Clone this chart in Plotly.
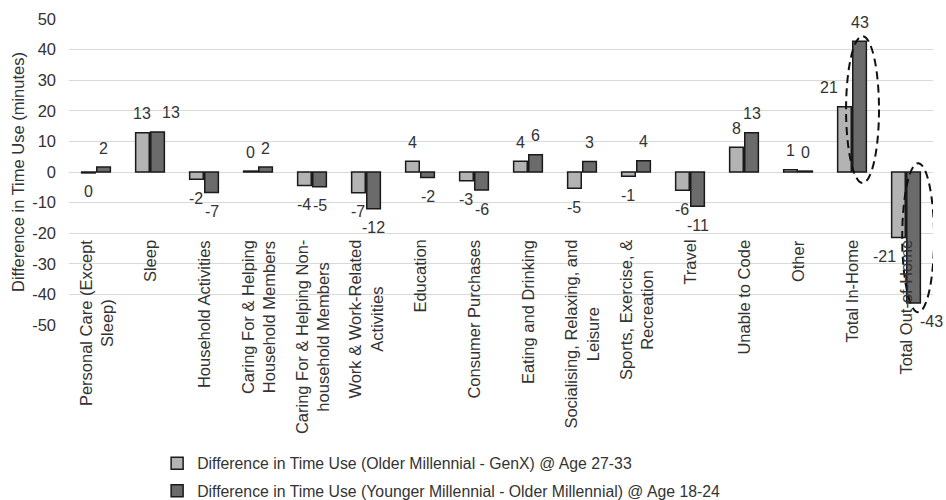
import plotly.graph_objects as go

# Activity categories (keys) and their wrapped display labels
categories = [
    "Personal Care (Except Sleep)", "Sleep", "Household Activities",
    "Caring For & Helping Household Members",
    "Caring For & Helping Non-household Members",
    "Work & Work-Related Activities", "Education", "Consumer Purchases",
    "Eating and Drinking", "Socialising, Relaxing, and Leisure",
    "Sports, Exercise, & Recreation", "Travel", "Unable to Code", "Other",
    "Total In-Home", "Total Out-of-Home",
]
category_labels = [
    "Personal Care (Except<br>Sleep)", "Sleep", "Household Activities",
    "Caring For & Helping<br>Household Members",
    "Caring For & Helping Non-<br>household Members",
    "Work & Work-Related<br>Activities", "Education", "Consumer Purchases",
    "Eating and Drinking", "Socialising, Relaxing, and<br>Leisure",
    "Sports, Exercise, &<br>Recreation", "Travel", "Unable to Code", "Other",
    "Total In-Home", "Total Out-of-Home",
]

# Difference in daily time use, minutes
older_minus_genx = [-0.3, 12.8, -2.4, 0.3, -4.4, -6.8, 3.5, -2.9, 3.5, -5.3,
                    -1.4, -6.0, 8.1, 0.7, 21.3, -21.4]
younger_minus_older = [1.6, 13.1, -6.7, 1.6, -4.8, -12.0, -1.8, -5.9, 5.6, 3.4,
                       3.7, -11.2, 12.8, 0.3, 42.7, -42.8]

series_names = [
    "Difference in Time Use (Older Millennial - GenX) @ Age 27-33",
    "Difference in Time Use (Younger Millennial - Older Millennial) @ Age 18-24",
]

y_ticks = [-50, -40, -30, -20, -10, 0, 10, 20, 30, 40, 50]
y_tick_labels = [str(v) for v in y_ticks]

FONT = "Liberation Sans, Arial, sans-serif"
TEXT = "#333333"
GRID = "#d9d9d9"
FS = 16.5

series = [
    (series_names[0], older_minus_genx, "#b3b3b3", "a", -7.6),
    (series_names[1], younger_minus_older, "#6b6b6b", "b", 7.6),
]

# Hand-placed sideways nudges for labels that would otherwise collide
label_nudge = {
    ("b", "Sleep"): 13,
    ("a", "Total In-Home"): -15,
    ("a", "Total Out-of-Home"): -14,
    ("b", "Total Out-of-Home"): 18,
}

fig = go.Figure()

for name, values, fill, grp, offset in series:
    fig.add_bar(
        x=categories,
        y=values,
        name=name,
        legendgroup=grp,
        marker=dict(color=fill, line=dict(color="#1a1a1a", width=1.5)),
    )
    # Value labels just beyond the end of each bar
    for cat, v in zip(categories, values):
        up = v >= 0
        fig.add_annotation(
            x=cat, xref="x", y=v, yref="y",
            text=str(int(round(v))), showarrow=False,
            xanchor="center", yanchor="bottom" if up else "top",
            xshift=offset + label_nudge.get((grp, cat), 0),
            yshift=8.5 if up else -8.5,
            font=dict(family=FONT, size=16, color=TEXT),
        )

# Category labels, rotated and hung from a common baseline inside the plot
for key, label in zip(categories, category_labels):
    fig.add_annotation(
        x=key, xref="x", y=0.284, yref="paper",
        text=label, textangle=-90, showarrow=False,
        xanchor="center", yanchor="top", align="center",
        font=dict(family=FONT, size=FS, color=TEXT),
    )

# Dashed ellipses highlighting the in-home / out-of-home shift
fig.add_shape(type="circle", xref="x", yref="y",
              x0=13.89, x1=14.5, y0=-3.6, y1=44.4,
              line=dict(color="#111111", width=2, dash="8px,5px"))
fig.add_shape(type="circle", xref="x", yref="y",
              x0=14.93, x1=15.52, y0=-45.8, y1=2.9,
              line=dict(color="#111111", width=2, dash="8px,5px"))

fig.update_layout(
    width=946, height=500,
    margin=dict(l=69, r=13, t=19, b=175, autoexpand=False),
    paper_bgcolor="white", plot_bgcolor="white",
    font=dict(family=FONT, color=TEXT),
    barmode="group", bargap=0.44, bargroupgap=0.1,
    showlegend=True,
    legend=dict(
        x=0.102, xanchor="left", y=-0.397, yanchor="top",
        orientation="v", tracegroupgap=4,
        font=dict(family=FONT, size=15.8, color=TEXT),
        bgcolor="rgba(0,0,0,0)",
    ),
)
fig.update_xaxes(
    type="category", range=[-0.5, 15.5],
    showticklabels=False, showgrid=False, showline=False, ticks="",
    zeroline=False,
)
fig.update_yaxes(
    range=[-50, 50], tickvals=y_ticks, ticktext=y_tick_labels,
    showgrid=True, gridcolor=GRID, gridwidth=1.3,
    zeroline=True, zerolinecolor=GRID, zerolinewidth=1.3,
    showline=False, ticks="", ticklabelstandoff=12,
    tickfont=dict(family=FONT, size=FS, color=TEXT),
    title=dict(text="Difference in Time Use (minutes)", standoff=3,
               font=dict(family=FONT, size=FS, color=TEXT)),
)

fig.write_html("out.html")
